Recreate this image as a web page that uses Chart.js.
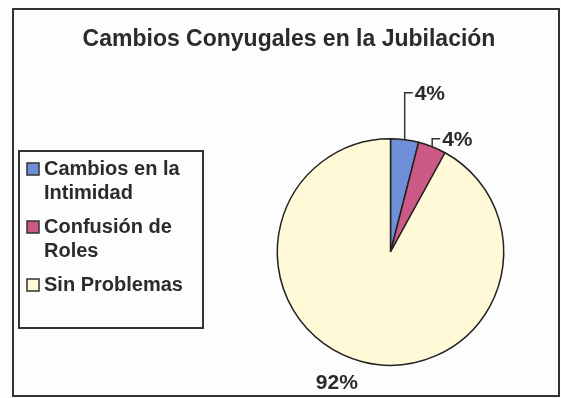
<!DOCTYPE html>
<html>
<head>
<meta charset="utf-8">
<script src="https://cdn.jsdelivr.net/npm/chart.js@4.4.1/dist/chart.umd.min.js"></script>
<style>
    html, body { margin: 0; padding: 0; background: #ffffff; }
    #wrap { width: 561px; height: 398px; }
</style>
</head>
<body>
<div id="wrap"><canvas id="pie-chart"></canvas></div>
<script>
const chartTitle = "Cambios Conyugales en la Jubilación";
const categories = ["Cambios en la Intimidad", "Confusión de Roles", "Sin Problemas"];
const values = [4, 4, 92];
const valueLabels = ["4%", "4%", "92%"];
const colors = ["#6f8fd8", "#cc5a86", "#fff9d8"];

const FONT = "'Liberation Sans', Arial, sans-serif";

// frame, title and legend drawn around the pie
const framePlugin = {
    id: "frame",
    beforeDraw(chart) {
        const ctx = chart.ctx;
        ctx.save();
        ctx.fillStyle = "#fdfdfd";
        ctx.fillRect(0, 0, chart.width, chart.height);
        ctx.strokeStyle = "#333";
        ctx.lineWidth = 2;
        ctx.strokeRect(13, 9, 546, 387);

        ctx.fillStyle = "#2b2b2b";
        ctx.font = "bold 23px " + FONT;
        ctx.textAlign = "center";
        ctx.textBaseline = "middle";
        ctx.fillText(chartTitle, 289, 40);
        ctx.restore();
    },
    afterDraw(chart) {
        const ctx = chart.ctx;
        ctx.save();
        ctx.strokeStyle = "#333";
        ctx.lineWidth = 2;
        ctx.strokeRect(19, 151, 184, 177);

        ctx.font = "bold 20px " + FONT;
        ctx.textBaseline = "middle";
        ctx.textAlign = "left";
        let y = 169;
        for (let i = 0; i < categories.length; i++) {
            ctx.fillStyle = colors[i];
            ctx.fillRect(27, y - 6, 12, 12);
            ctx.strokeStyle = "#333";
            ctx.lineWidth = 1.5;
            ctx.strokeRect(27, y - 6, 12, 12);

            // wrap words into lines that fit the box
            const words = categories[i].split(" ");
            const lines = [];
            let line = "";
            for (const w of words) {
                const test = line ? line + " " + w : w;
                if (ctx.measureText(test).width > 152 && line) {
                    lines.push(line);
                    line = w;
                } else {
                    line = test;
                }
            }
            lines.push(line);

            ctx.fillStyle = "#2b2b2b";
            for (let j = 0; j < lines.length; j++) {
                ctx.fillText(lines[j], 44, y + j * 24);
            }
            y += lines.length * 24 + 10;
        }
        ctx.restore();
    }
};

// value labels with leader lines
const labelPlugin = {
    id: "valueLabels",
    afterDatasetsDraw(chart) {
        const ctx = chart.ctx;
        const arcs = chart.getDatasetMeta(0).data;
        const rise = [47, 8, null];
        ctx.save();
        ctx.font = "bold 21px " + FONT;
        ctx.fillStyle = "#2b2b2b";
        ctx.strokeStyle = "#333";
        ctx.lineWidth = 1.5;
        ctx.textBaseline = "middle";
        arcs.forEach((arc, i) => {
            const p = arc.getProps(["x", "y", "startAngle", "endAngle", "outerRadius"], true);
            const mid = (p.startAngle + p.endAngle) / 2;
            const ex = p.x + Math.cos(mid) * p.outerRadius;
            const ey = p.y + Math.sin(mid) * p.outerRadius;
            if (rise[i] !== null) {
                const ty = ey - rise[i];
                ctx.beginPath();
                ctx.moveTo(ex, ey);
                ctx.lineTo(ex, ty);
                ctx.lineTo(ex + 8, ty);
                ctx.stroke();
                ctx.textAlign = "left";
                ctx.fillText(valueLabels[i], ex + 10, ty + 2);
            } else {
                const r = p.outerRadius + 22;
                ctx.textAlign = "center";
                ctx.fillText(valueLabels[i], p.x + Math.cos(mid) * r - 20, p.y + Math.sin(mid) * r);
            }
        });
        ctx.restore();
    }
};

const ctx1 = document.getElementById("pie-chart");

const data1 = {
    labels: categories,
    datasets: [
        {
            data: values,
            backgroundColor: colors,
            borderColor: "#222",
            borderWidth: 1.5
        }
    ]
};

const chart1 = new Chart(ctx1, {
    type: "pie",
    data: data1,
    options: {
        responsive: true,
        maintainAspectRatio: false,
        animation: false,
        layout: {
            padding: { left: 276, right: 56, top: 138, bottom: 32 }
        },
        plugins: {
            legend: { display: false },
            title: { display: false },
            tooltip: { enabled: false }
        }
    },
    plugins: [framePlugin, labelPlugin]
});
</script>
</body>
</html>
